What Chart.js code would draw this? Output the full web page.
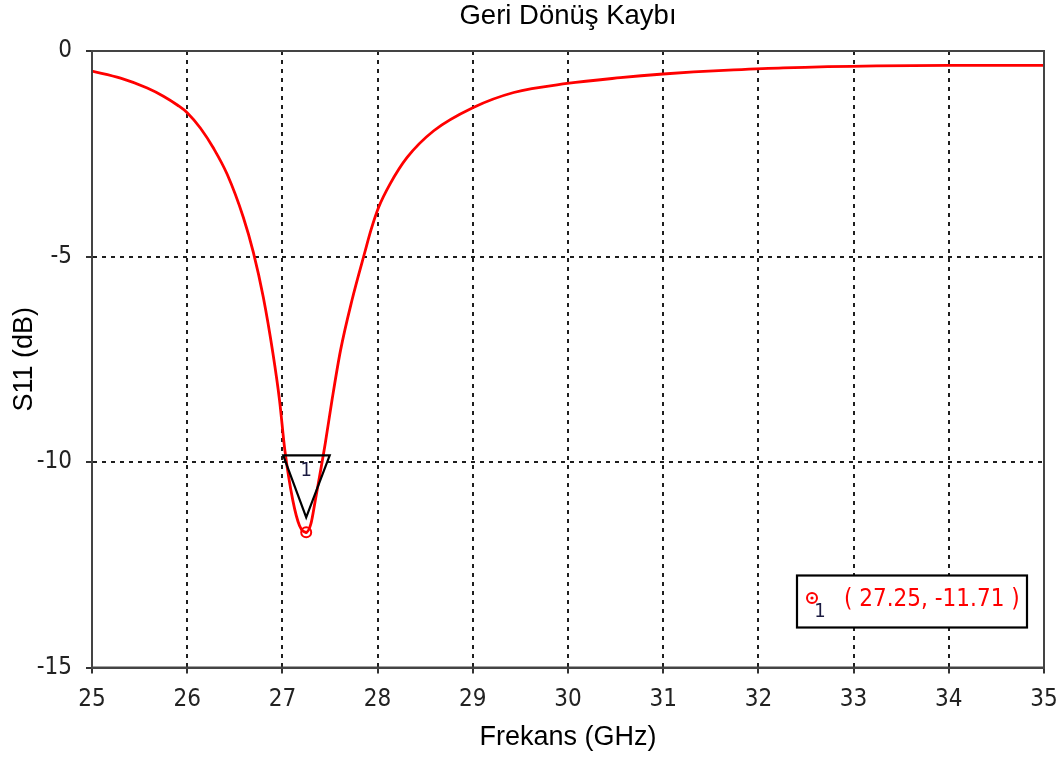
<!DOCTYPE html>
<html>
<head>
<meta charset="utf-8">
<script src="https://cdn.jsdelivr.net/npm/chart.js@4.4.1/dist/chart.umd.min.js"></script>
<style>
  html, body { margin: 0; padding: 0; background: #ffffff; }
  #wrap { width: 1062px; height: 758px; }
</style>
</head>
<body>
<div id="wrap"><canvas id="c" width="1062" height="758"></canvas></div>
<script>
// Return loss sweep (S11) over 25–35 GHz
const freqGHz = [25.0, 25.3, 25.58, 25.75, 25.9, 26.0, 26.14, 26.28, 26.42, 26.59,
                 26.695, 26.80, 26.90, 26.97, 27.025, 27.11, 27.18, 27.25, 27.30, 27.345,
                 27.45, 27.52, 27.61, 27.73, 27.87, 27.93, 28.01, 28.13, 28.31, 28.59,
                 29.0, 29.43, 29.99, 30.55, 31.0, 31.32, 31.74, 32.26, 33.24, 34.0, 35.0];
const s11dB   = [-0.49, -0.66, -0.90, -1.10, -1.32, -1.50, -1.88, -2.38, -3.0, -4.05,
                 -4.9, -6.0, -7.35, -8.5, -9.7, -10.94, -11.55, -11.71, -11.50, -10.94,
                 -9.55, -8.51, -7.29, -6.07, -4.86, -4.36, -3.81, -3.24, -2.59, -1.94,
                 -1.38, -1.01, -0.79, -0.65, -0.56, -0.51, -0.46, -0.41, -0.36, -0.35, -0.35];

// Marker 1 (resonance minimum)
const markerFreq = [27.25];
const markerS11  = [-11.71];
const markerIds  = ['1'];

const xTicks = [25, 26, 27, 28, 29, 30, 31, 32, 33, 34, 35];
const yTicks = [0, -5, -10, -15];

const tickFont = { family: "'DejaVu Sans Condensed', 'DejaVu Sans', sans-serif", size: 24 };
const labelFont = { family: "'Liberation Sans', Arial, sans-serif", size: 27 };

// Plot frame around the whole plotting area
const framePlugin = {
  id: 'frame',
  afterDatasetsDraw(chart) {
    const { ctx, chartArea: a } = chart;
    ctx.save();
    ctx.strokeStyle = '#444444';
    ctx.lineWidth = 2;
    ctx.strokeRect(a.left, a.top, a.right - a.left, a.bottom - a.top);
    ctx.restore();
  }
};

function drawRing(ctx, x, y) {
  ctx.strokeStyle = '#ff0000';
  ctx.lineWidth = 2;
  ctx.beginPath();
  ctx.arc(x, y, 5, 0, Math.PI * 2);
  ctx.stroke();
  ctx.fillStyle = '#ff0000';
  ctx.beginPath();
  ctx.arc(x, y, 1.6, 0, Math.PI * 2);
  ctx.fill();
}

// Marker glyphs and readout box
const markerPlugin = {
  id: 'markers',
  afterDraw(chart) {
    const { ctx, chartArea: a } = chart;
    const xs = chart.scales.x, ys = chart.scales.y;
    ctx.save();
    markerFreq.forEach((f, i) => {
      const px = xs.getPixelForValue(f);
      const py = ys.getPixelForValue(markerS11[i]);
      drawRing(ctx, px, py);
      // downward triangle flag above the marker
      ctx.strokeStyle = '#000000';
      ctx.lineWidth = 2.2;
      ctx.lineJoin = 'miter';
      ctx.beginPath();
      ctx.moveTo(px - 23, py - 77);
      ctx.lineTo(px + 23.5, py - 77);
      ctx.lineTo(px, py - 15);
      ctx.closePath();
      ctx.stroke();
      ctx.fillStyle = '#1a1a40';
      ctx.font = "20px 'DejaVu Sans Condensed', 'DejaVu Sans', sans-serif";
      ctx.textAlign = 'center';
      ctx.textBaseline = 'middle';
      ctx.fillText(markerIds[i], px, py - 61);

      // readout box
      const bx = a.right - 247, by = a.bottom - 92, bw = 230, bh = 52;
      ctx.fillStyle = '#ffffff';
      ctx.fillRect(bx, by, bw, bh);
      ctx.strokeStyle = '#000000';
      ctx.lineWidth = 2.2;
      ctx.strokeRect(bx, by, bw, bh);
      const cx = bx + 15, cy = by + 22.5;
      drawRing(ctx, cx, cy);
      ctx.fillStyle = '#1a1a40';
      ctx.font = "20px 'DejaVu Sans Condensed', 'DejaVu Sans', sans-serif";
      ctx.textAlign = 'center';
      ctx.fillText(markerIds[i], cx + 8, cy + 14);
      ctx.fillStyle = '#ff0000';
      ctx.font = "24px 'DejaVu Sans Condensed', 'DejaVu Sans', sans-serif";
      ctx.textAlign = 'left';
      ctx.fillText('( ' + f.toFixed(2) + ', ' + markerS11[i].toFixed(2) + ' )', bx + 47, cy + 2);
    });
    ctx.restore();
  }
};

const gridOpts = {
  color: '#1e1e1e', lineWidth: 2,
  tickLength: 6, tickColor: '#333333', tickWidth: 2, tickBorderDash: []
};

new Chart(document.getElementById('c'), {
  type: 'line',
  data: {
    datasets: [{
      label: 'S11',
      data: freqGHz.map((f, i) => ({ x: f, y: s11dB[i] })),
      borderColor: '#ff0000',
      borderWidth: 2.8,
      pointRadius: 0,
      fill: false,
      cubicInterpolationMode: 'monotone'
    }]
  },
  options: {
    responsive: false,
    animation: false,
    layout: { padding: 0 },
    plugins: {
      legend: { display: false },
      tooltip: { enabled: false },
      title: {
        display: true,
        text: 'Geri Dönüş Kaybı',
        fullSize: false,
        color: '#000000',
        font: { family: labelFont.family, size: 27.5, weight: 'normal' },
        padding: { top: 0, bottom: 18 }
      }
    },
    scales: {
      x: {
        type: 'linear',
        min: 25, max: 35,
        afterBuildTicks(scale) { scale.ticks = xTicks.map(v => ({ value: v })); },
        afterFit(scale) { scale.height = 90.5; scale.paddingRight = 18; },
        ticks: { color: '#222222', font: tickFont, padding: 12, maxRotation: 0 },
        grid: gridOpts,
        border: { display: true, color: '#444444', width: 2, dash: [4, 5] },
        title: {
          display: true, text: 'Frekans (GHz)', color: '#000000',
          font: labelFont, padding: { top: 0, bottom: 4 }
        }
      },
      y: {
        type: 'linear',
        min: -15, max: 0,
        afterBuildTicks(scale) { scale.ticks = yTicks.map(v => ({ value: v })); },
        afterFit(scale) { scale.width = 92; },
        ticks: { color: '#222222', font: tickFont, padding: 14 },
        grid: gridOpts,
        border: { display: true, color: '#444444', width: 2, dash: [4, 5] },
        title: {
          display: true, text: 'S11 (dB)', color: '#000000',
          font: labelFont, padding: { top: 8, bottom: 0 }
        }
      }
    }
  },
  plugins: [framePlugin, markerPlugin]
});
</script>
</body>
</html>
